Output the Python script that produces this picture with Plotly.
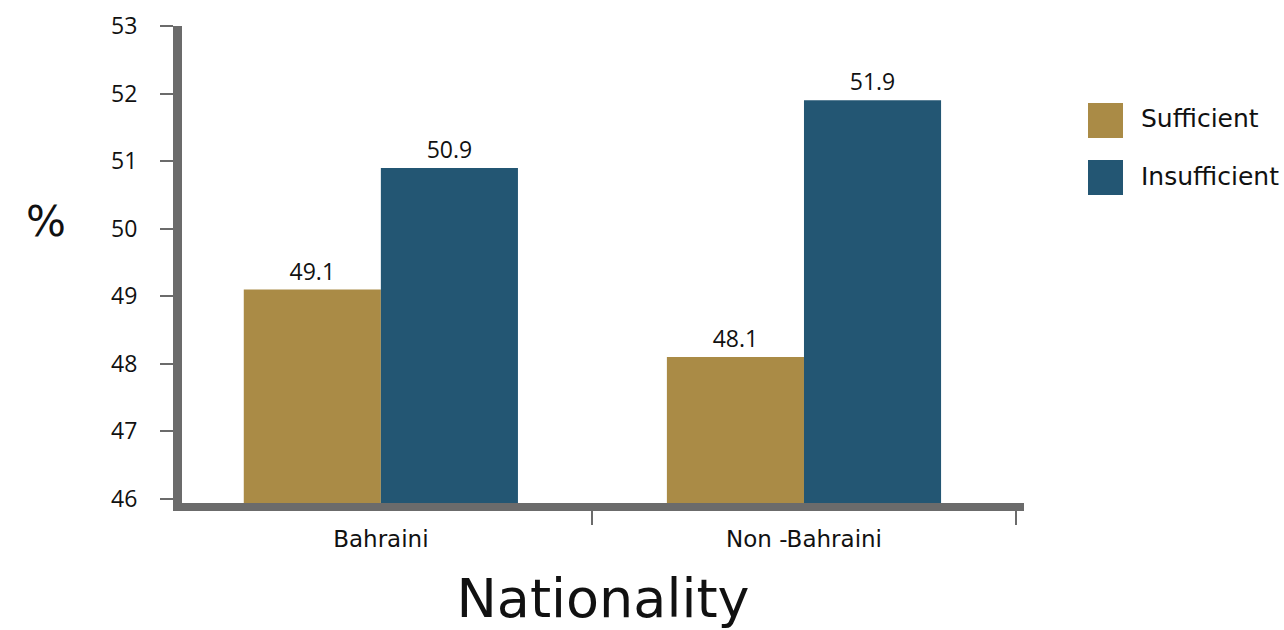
import plotly.graph_objects as go

categories = ["Bahraini", "Non -Bahraini"]
series_names = ["Sufficient", "Insufficient"]
sufficient = [49.1, 48.1]
insufficient = [50.9, 51.9]
y_ticks = [46, 47, 48, 49, 50, 51, 52, 53]
colors = ["#AA8B46", "#235673"]

W, H = 1284, 630
ML, MR, MT, MB = 182, 260, 26, 127

fig = go.Figure()
for name, vals, col in zip(series_names, [sufficient, insufficient], colors):
    fig.add_trace(go.Bar(
        x=categories, y=vals, name=name, marker=dict(color=col, line=dict(width=0)),
        text=[f"{v:.1f}" for v in vals], textposition="outside", cliponaxis=False,
        textfont=dict(family="Open Sans", size=23, color="#111"),
        showlegend=False,
    ))

pw = W - ML - MR
ph = H - MT - MB
def px2x(px):
    return (px - ML) / pw
def py2y(py):
    return (H - MB - py) / ph

shapes = []
annotations = []
leg_y = [103, 160]
for name, col, y0 in zip(series_names, colors, leg_y):
    shapes.append(dict(type="rect", xref="paper", yref="paper",
                       x0=px2x(1088), x1=px2x(1123), y0=py2y(y0 + 35), y1=py2y(y0),
                       fillcolor=col, line=dict(width=0)))
    annotations.append(dict(xref="paper", yref="paper", x=px2x(1139), y=py2y(y0 + 16),
                            text=name, showarrow=False, xanchor="left", yanchor="middle",
                            font=dict(family="DejaVu Sans", size=25, color="#111")))
annotations.append(dict(xref="paper", yref="paper", x=px2x(46), y=py2y(222),
                        text="%", showarrow=False, xanchor="center", yanchor="middle",
                        font=dict(family="DejaVu Sans", size=42, color="#111")))

fig.update_layout(
    width=W, height=H, margin=dict(l=ML, r=MR, t=MT, b=MB, autoexpand=False),
    paper_bgcolor="white", plot_bgcolor="white",
    barmode="group", bargap=0.352, bargroupgap=0,
    shapes=shapes, annotations=annotations,
    xaxis=dict(
        range=[-0.47, 1.52], showline=True, linecolor="#6b6b6b", linewidth=8,
        ticks="outside", tickson="boundaries", ticklen=14, tickcolor="#6b6b6b", tickwidth=1.5,
        tickfont=dict(family="DejaVu Sans", size=23, color="#111"), showgrid=False,
        ticklabelstandoff=8, automargin=False,
        title=dict(text="Nationality", font=dict(family="DejaVu Sans", size=54, color="#111"), standoff=46),
    ),
    yaxis=dict(
        range=[45.94, 53], tickvals=y_ticks, showline=True, linecolor="#6b6b6b", linewidth=9,
        ticks="outside", ticklen=13, tickcolor="#6b6b6b", tickwidth=2, automargin=False,
        tickfont=dict(family="Open Sans", size=23, color="#111"), showgrid=False, zeroline=False,
        ticklabelstandoff=18,
    ),
)

fig.write_html("out.html")
